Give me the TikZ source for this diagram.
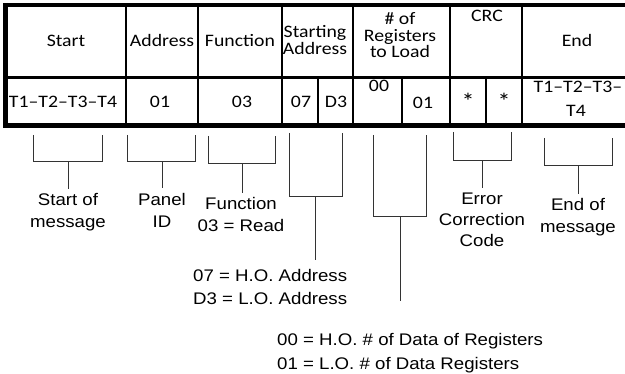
\documentclass[tikz,border=0pt]{standalone}
\usepackage{fontspec}
\newfontfamily\tabfont[FakeStretch=1.13]{Carlito}
\newfontfamily\lblfont[FakeStretch=1.11]{Liberation Sans}
\begin{document}
\begin{tikzpicture}[x=1pt,y=-1pt,
  tab/.style={font=\tabfont\fontsize{17.5}{20}\selectfont, inner sep=0pt, anchor=base},
  star/.style={font=\tabfont\fontsize{23}{24}\selectfont, inner sep=0pt, anchor=base},
  lbl/.style={font=\lblfont\fontsize{16.8}{20}\selectfont, inner sep=0pt, anchor=base},
  rule/.style={line width=2pt, black},
  brk/.style={line width=1pt, black!80}]
\useasboundingbox (0,0) rectangle (625,374);
% table rules
\foreach \x in {126,198,282,353,450,522} \draw[rule] (\x,5) -- (\x,125);
\foreach \x in {318,402,486} \draw[rule] (\x,77) -- (\x,125);
\draw[line width=2.5pt] (5,77.3) -- (625,77.3);
\draw[line width=4pt] (3,5) -- (625,5);
\draw[line width=4.5pt] (3,125.5) -- (625,125.5);
\draw[line width=4.5pt] (5.3,3) -- (5.3,127.75);
% header
\node[tab] (hStart) at (66,47) {Start};
\node[tab] (hAddr) at (162,47) {Address};
\node[tab] (hFunc) at (240,47) {Function};
\node[tab] (hSA1) at (315,38) {Starting};
\node[tab] (hSA2) at (315,55) {Address};
\node[tab] (hR1) at (400,25) {\# of};
\node[tab] (hR2) at (400,41.5) {Registers};
\node[tab] (hR3) at (400,58) {to Load};
\node[tab] (hCRC) at (487,22) {CRC};
\node[tab] (hEnd) at (577,47) {End};
% data
\node[tab] (dStart) at (63,108) {T1–T2–T3–T4};
\node[tab] (dAddr) at (160,108) {01};
\node[tab] (dFunc) at (242,108) {03};
\node[tab] (d07) at (301,108) {07};
\node[tab] (dD3) at (336,108) {D3};
\node[tab] (d00) at (379,92) {00};
\node[tab] (d01) at (423,109) {01};
\node[star] (dC1) at (468,110) {*};
\node[star] (dC2) at (504,110) {*};
\node[tab] (dE1) at (578,93) {T1–T2–T3–};
\node[tab] (dE2) at (576,117) {T4};
% brackets
\draw[brk] (33,135) -- (33,162) -- (102,162) -- (102,135);
\draw[brk] (127,135) -- (127,162) -- (195,162) -- (195,135);
\draw[brk] (208,136) -- (208,164) -- (275,164) -- (275,136);
\draw[brk] (289,133) -- (289,197) -- (342,197) -- (342,133);
\draw[brk] (373,135) -- (373,217) -- (426,217) -- (426,135);
\draw[brk] (453,132) -- (453,161) -- (511,161) -- (511,132);
\draw[brk] (544,138) -- (544,166) -- (612,166) -- (612,138);
\coordinate (s1) at (68,162); \coordinate (e1) at (68,189);
\coordinate (s2) at (162,162); \coordinate (e2) at (162,188);
\coordinate (s3) at (242,164); \coordinate (e3) at (242,193);
\coordinate (s4) at (315,197); \coordinate (e4) at (315,260);
\coordinate (s5) at (400,217); \coordinate (e5) at (400,301);
\coordinate (s6) at (482,161); \coordinate (e6) at (482,188);
\coordinate (s7) at (578,166); \coordinate (e7) at (578,194);
\foreach \i in {1,...,7} \draw[brk] (s\i) -- (e\i);
% labels
\node[lbl] (l1a) at (68,206) {Start of};
\node[lbl] (l1b) at (68,228) {message};
\node[lbl] (l2a) at (162,206) {Panel};
\node[lbl] (l2b) at (162,228) {ID};
\node[lbl] (l3a) at (241,210) {Function};
\node[lbl] (l3b) at (241,232) {03 = Read};
\node[lbl, anchor=base west] (l4a) at (193,282) {07 = H.O. Address};
\node[lbl, anchor=base west] (l4b) at (193,305) {D3 = L.O. Address};
\node[lbl, anchor=base west] (l5a) at (277,346) {00 = H.O. \# of Data of Registers};
\node[lbl, anchor=base west] (l5b) at (277,370) {01 = L.O. \# of Data Registers};
\node[lbl] (l6a) at (482,205) {Error};
\node[lbl] (l6b) at (482,226) {Correction};
\node[lbl] (l6c) at (482,247) {Code};
\node[lbl] (l7a) at (578,211) {End of};
\node[lbl] (l7b) at (578,233) {message};
\end{tikzpicture}
\end{document}
